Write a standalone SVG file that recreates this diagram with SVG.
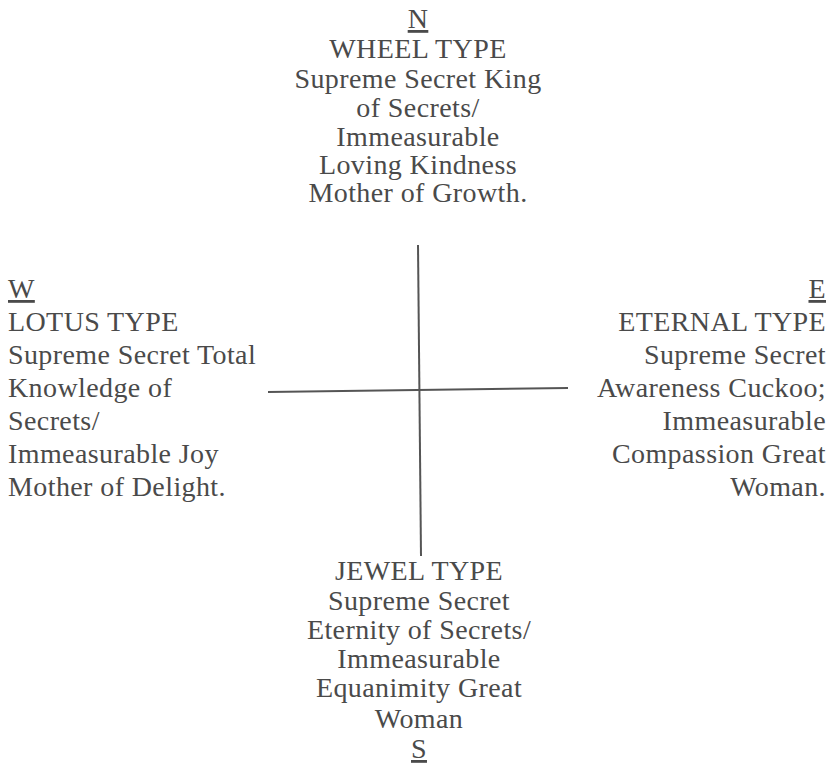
<svg xmlns="http://www.w3.org/2000/svg" width="833" height="765" viewBox="0 0 833 765">
<style>
text{font-family:'Liberation Serif','DejaVu Serif',serif;font-size:28px;fill:#4a4a4a;letter-spacing:0.4px}
.c{text-anchor:middle}
.r{text-anchor:end}
.u{text-decoration:underline}
.ln{stroke:#555;stroke-width:2;fill:none}
</style>
<rect width="833" height="765" fill="#ffffff"/>
<g id="connectors">
<line class="ln" x1="418" y1="245" x2="421" y2="556"/>
<line class="ln" x1="268" y1="392" x2="568" y2="388"/>
</g>
<g id="north">
<text class="c u" x="418" y="28">N</text>
<text class="c" x="418" y="58">WHEEL  TYPE</text>
<text class="c" x="418" y="88">Supreme Secret King</text>
<text class="c" x="418" y="117">of Secrets/</text>
<text class="c" x="418" y="146">Immeasurable</text>
<text class="c" x="418" y="174">Loving Kindness</text>
<text class="c" x="418" y="202">Mother of Growth.</text>
</g>
<g id="west">
<text class="u" x="8" y="298">W</text>
<text x="8" y="331">LOTUS TYPE</text>
<text x="8" y="364">Supreme Secret Total</text>
<text x="8" y="397">Knowledge of</text>
<text x="8" y="430">Secrets/</text>
<text x="8" y="463">Immeasurable Joy</text>
<text x="8" y="496">Mother of Delight.</text>
</g>
<g id="east">
<text class="r u" x="826" y="298">E</text>
<text class="r" x="826" y="331">ETERNAL TYPE</text>
<text class="r" x="826" y="364">Supreme Secret</text>
<text class="r" x="826" y="397">Awareness Cuckoo;</text>
<text class="r" x="826" y="430">Immeasurable</text>
<text class="r" x="826" y="463">Compassion Great</text>
<text class="r" x="826" y="496">Woman.</text>
</g>
<g id="south">
<text class="c" x="419" y="580">JEWEL  TYPE</text>
<text class="c" x="419" y="610">Supreme Secret</text>
<text class="c" x="419" y="639">Eternity of Secrets/</text>
<text class="c" x="419" y="668">Immeasurable</text>
<text class="c" x="419" y="697">Equanimity Great</text>
<text class="c" x="419" y="728">Woman</text>
<text class="c u" x="419" y="758">S</text>
</g>
</svg>
